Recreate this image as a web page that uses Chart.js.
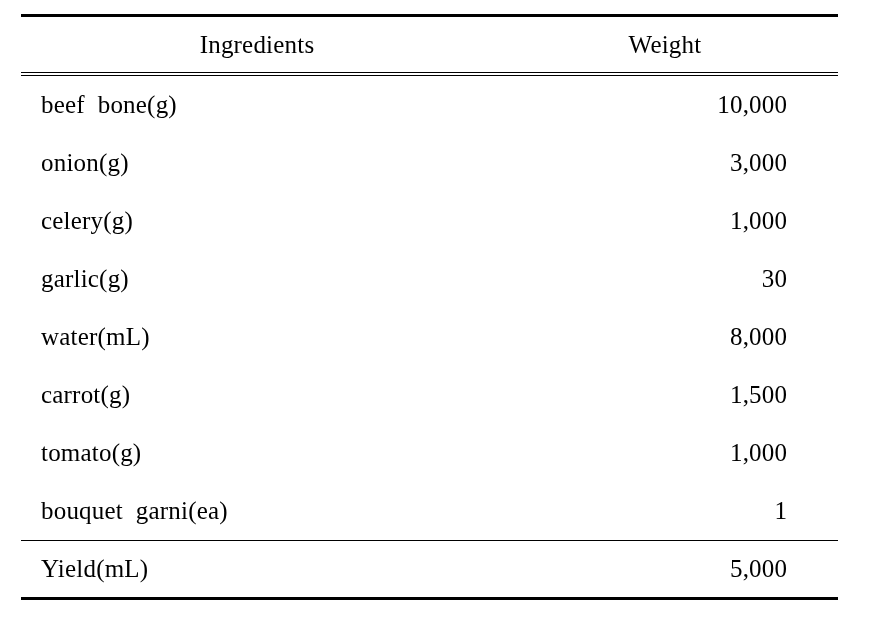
<!DOCTYPE html>
<html>
<head>
<meta charset="utf-8">
<script src="https://cdn.jsdelivr.net/npm/chart.js@4"></script>
<style>
  html, body { margin: 0; padding: 0; background: #ffffff; }
  #wrap { width: 878px; height: 621px; }
</style>
</head>
<body>
<div id="wrap"><canvas id="recipeTable"></canvas></div>
<script>
const headers = ['Ingredients', 'Weight'];
const ingredients = ['beef  bone(g)', 'onion(g)', 'celery(g)', 'garlic(g)', 'water(mL)', 'carrot(g)', 'tomato(g)', 'bouquet  garni(ea)'];
const weights = [10000, 3000, 1000, 30, 8000, 1500, 1000, 1];
const yieldLabel = 'Yield(mL)';
const yieldValue = 5000;

const rowLabels = ingredients.concat([yieldLabel]);
const rowValues = weights.concat([yieldValue]);

const FONT = '25px "Liberation Serif", "Times New Roman", serif';
const SPACING = 0.2;

const formatWeight = (v) => v.toLocaleString('en-US');

// draws the table text and rules on top of the (invisible) bar chart
const tablePlugin = {
    id: 'tablePlugin',
    afterDraw(chart) {
        const ctx = chart.ctx;
        const area = chart.chartArea;
        const yScale = chart.scales.y;
        const left = area.left;
        const right = area.right;

        ctx.save();
        ctx.fillStyle = '#000';

        // top thick rule
        ctx.fillRect(left, 14, right - left, 3);
        // double rule under header
        ctx.fillRect(left, 72, right - left, 1);
        ctx.fillRect(left, 75, right - left, 1);

        ctx.font = FONT;
        ctx.letterSpacing = SPACING + 'px';
        ctx.textBaseline = 'alphabetic';
        ctx.textAlign = 'center';
        ctx.fillText(headers[0], 257, 53);
        ctx.fillText(headers[1], 665, 53);

        rowLabels.forEach((label, i) => {
            const y = yScale.getPixelForValue(i) + 8;
            ctx.textAlign = 'left';
            ctx.fillText(label, left + 20, y);
            ctx.textAlign = 'right';
            ctx.fillText(formatWeight(rowValues[i]), right - 51 + SPACING, y);
        });

        // thin rule above yield row
        const yieldTop = Math.round((yScale.getPixelForValue(rowLabels.length - 2) + yScale.getPixelForValue(rowLabels.length - 1)) / 2);
        ctx.fillRect(left, yieldTop, right - left, 1);
        // bottom thick rule
        ctx.fillRect(left, area.bottom - 1, right - left, 3);
        ctx.restore();
    }
};

document.addEventListener('DOMContentLoaded', () => {
    const ctx = document.getElementById('recipeTable').getContext('2d');
    new Chart(ctx, {
        type: 'bar',
        data: {
            labels: rowLabels,
            datasets: [{
                label: 'Weight',
                data: rowValues,
                backgroundColor: 'rgba(0,0,0,0)',
                borderWidth: 0
            }]
        },
        options: {
            indexAxis: 'y',
            responsive: true,
            maintainAspectRatio: false,
            animation: false,
            layout: {
                padding: { top: 76, bottom: 23, left: 21, right: 40 }
            },
            scales: {
                x: { display: false },
                y: { display: false, offset: true }
            },
            plugins: {
                legend: { display: false },
                tooltip: { enabled: false }
            }
        },
        plugins: [tablePlugin]
    });
});
</script>
</body>
</html>
